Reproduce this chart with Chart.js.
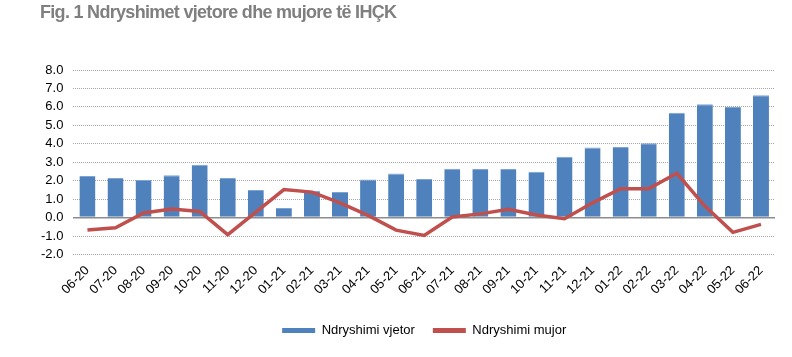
<!DOCTYPE html>
<html>
<head>
<meta charset="utf-8">
<script src="https://cdn.jsdelivr.net/npm/chart.js@4/dist/chart.umd.min.js"></script>
<style>
  html, body { margin: 0; padding: 0; background: #ffffff; }
  #wrap { position: relative; width: 792px; height: 357px; }
  #title { position: absolute; left: 40px; top: 2px; font-family: "Liberation Sans", Arial, sans-serif; font-weight: bold; font-size: 18px; color: #7f7f7f; letter-spacing: -0.7px; white-space: nowrap; }
  canvas { position: absolute; left: 0; top: 0; }
</style>
</head>
<body>
<div id="wrap">
  <canvas id="c" width="792" height="357"></canvas>
  <div id="title">Fig. 1 Ndryshimet vjetore dhe mujore të IHÇK</div>
</div>
<script>
const categories = ["06-20","07-20","08-20","09-20","10-20","11-20","12-20","01-21","02-21","03-21","04-21","05-21","06-21","07-21","08-21","09-21","10-21","11-21","12-21","01-22","02-22","03-22","04-22","05-22","06-22"];
const annualChange = [2.25, 2.14, 2.03, 2.30, 2.86, 2.14, 1.50, 0.52, 1.46, 1.38, 2.06, 2.39, 2.09, 2.64, 2.63, 2.63, 2.48, 3.30, 3.80, 3.82, 4.03, 5.68, 6.14, 6.00, 6.63];
const monthlyChange = [-0.68, -0.55, 0.25, 0.47, 0.33, -0.93, 0.30, 1.52, 1.38, 0.80, 0.12, -0.68, -0.97, 0.03, 0.20, 0.45, 0.14, -0.06, 0.80, 1.56, 1.56, 2.40, 0.62, -0.80, -0.37];
const seriesNames = ["Ndryshimi vjetor", "Ndryshimi mujor"];
const yMin = -2, yMax = 8, yStep = 1;

const FONT = "'Liberation Sans', Arial, sans-serif";
const BLUE = "#4F81BD";
const RED = "#C0504D";

new Chart(document.getElementById("c"), {
  data: {
    labels: categories,
    datasets: [
      {
        type: "line",
        label: seriesNames[1],
        data: monthlyChange,
        borderColor: RED,
        backgroundColor: RED,
        borderWidth: 3.5,
        pointRadius: 0,
        tension: 0,
        order: 0
      },
      {
        type: "bar",
        label: seriesNames[0],
        data: annualChange,
        backgroundColor: BLUE,
        borderColor: "#7FA3D3",
        borderWidth: { top: 1, left: 0, right: 0, bottom: 0 },
        barPercentage: 0.57,
        categoryPercentage: 1.0,
        order: 1
      }
    ]
  },
  options: {
    responsive: false,
    animation: false,
    layout: { padding: { top: 70, left: 31, right: 17, bottom: 10 } },
    scales: {
      x: {
        offset: true,
        grid: { display: false, drawTicks: false },
        border: { display: false },
        ticks: {
          color: "#000",
          font: { family: FONT, size: 13 },
          minRotation: 45,
          maxRotation: 45,
          autoSkip: false,
          padding: 8.5
        }
      },
      y: {
        min: yMin,
        max: yMax,
        grid: {
          color: (ctx) => ctx.tick && ctx.tick.value === 0 ? "#8c8c8c" : "#a6a6a6",
          lineWidth: (ctx) => ctx.tick && ctx.tick.value === 0 ? 1.5 : 1,
          drawTicks: false
        },
        border: {
          display: false,
          dash: (ctx) => ctx.tick && ctx.tick.value === 0 ? [] : [1, 1]
        },
        ticks: {
          stepSize: yStep,
          autoSkip: false,
          color: "#000",
          font: { family: FONT, size: 13 },
          padding: 10,
          callback: (v) => Number(v).toFixed(1)
        }
      }
    },
    plugins: {
      title: { display: false },
      tooltip: { enabled: false },
      legend: {
        position: "bottom",
        fullSize: false,
        reverse: true,
        labels: {
          color: "#000",
          font: { family: FONT, size: 13 },
          boxWidth: 33,
          boxHeight: 5,
          padding: 18,
          generateLabels: (chart) => chart.data.datasets.map((ds, i) => ({
            text: ds.label,
            fillStyle: ds.type === "bar" ? BLUE : RED,
            strokeStyle: ds.type === "bar" ? BLUE : RED,
            lineWidth: 0,
            hidden: false,
            datasetIndex: i,
            fontColor: "#000"
          }))
        }
      }
    }
  }
});
</script>
</body>
</html>
